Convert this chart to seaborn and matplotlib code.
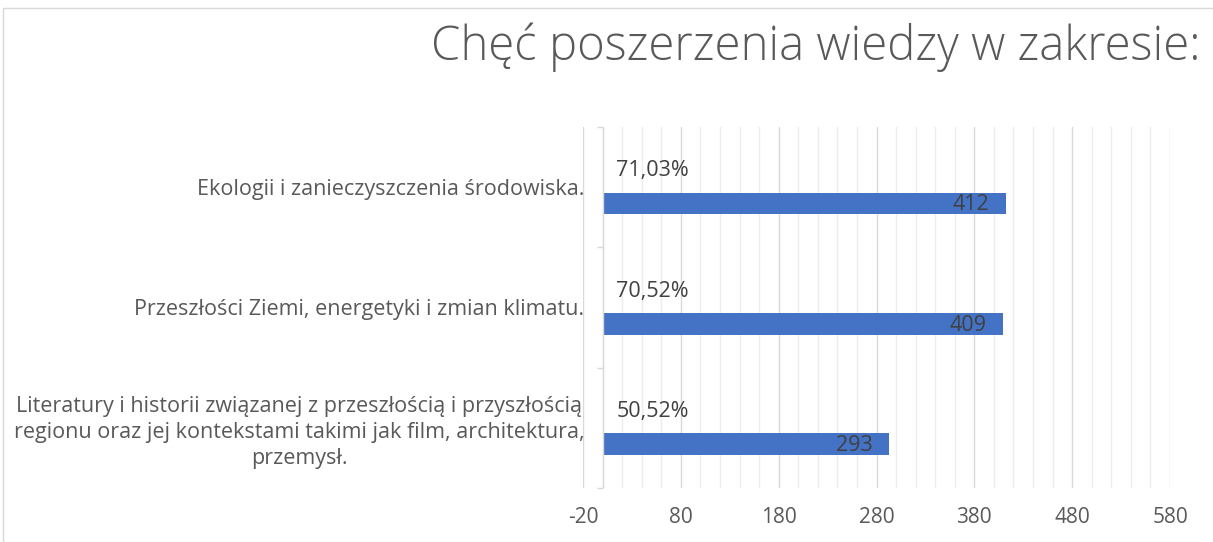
import matplotlib
matplotlib.use("Agg")
import matplotlib.pyplot as plt
import seaborn as sns
import pandas as pd
from matplotlib.patches import Rectangle

categories = [
    "Ekologii i zanieczyszczenia środowiska.",
    "Przeszłości Ziemi, energetyki i zmian klimatu.",
    "Literatury i historii związanej z przeszłością i przyszłością\nregionu oraz jej kontekstami takimi jak film, architektura,\nprzemysł.",
]
counts = [412, 409, 293]
percents = [0.7103, 0.7052, 0.5052]
percent_labels = ["71,03%", "70,52%", "50,52%"]
title = "Chęć poszerzenia wiedzy w zakresie:"
x_ticks = [-20, 80, 180, 280, 380, 480, 580]

df = pd.DataFrame({
    "cat": categories * 2,
    "series": ["pct"] * 3 + ["count"] * 3,
    "value": percents + counts,
})

sns.set_theme(style="white")
FONT = ["Open Sans", "DejaVu Sans"]
plt.rcParams["font.family"] = FONT

fig = plt.figure(figsize=(12.13, 5.42), dpi=100)
ax = fig.add_axes([583 / 1213, 1 - 488 / 542, (1170 - 583) / 1213, (488 - 127) / 542])

sns.barplot(data=df, y="cat", x="value", hue="series", order=categories,
            hue_order=["pct", "count"],
            palette={"pct": "#ED7D31", "count": "#4472C4"},
            orient="h", width=0.54, gap=0.33, dodge=True, ax=ax,
            legend=False, linewidth=0, saturation=1)

ax.set_xlim(-20, 580)
ax.set_ylim(2.5, -0.5)
ax.set_xticks(x_ticks)
ax.set_xticklabels([str(t) for t in x_ticks])
ax.set_xticks(range(-20, 581, 20), minor=True)
ax.grid(axis="x", which="major", color="#d9d9d9", linewidth=1.0)
ax.grid(axis="x", which="minor", color="#ececec", linewidth=1.0)
ax.set_axisbelow(True)
for s in ax.spines.values():
    s.set_visible(False)
ax.tick_params(axis="x", which="both", length=0, pad=14, labelsize=15, labelcolor="#595959")
ax.tick_params(axis="y", length=0, pad=-1, labelsize=15.5, labelcolor="#595959")
for lab in ax.get_yticklabels():
    lab.set_multialignment("center")
    lab.set_linespacing(1.3)
ax.set_xlabel("")
ax.set_ylabel("")

# category axis line at 0 with tick marks at category boundaries
ax.axvline(0, color="#d9d9d9", linewidth=1.0, zorder=1)
ax.hlines([-0.5, 0.5, 1.5, 2.5], -6, 0, color="#d9d9d9", linewidth=1.0, clip_on=False)

# labels
conts = ax.containers
pct_bars = conts[0]
cnt_bars = conts[1]
for bar, lab in zip(pct_bars, percent_labels):
    y = bar.get_y() + bar.get_height() / 2
    ax.annotate(lab, (bar.get_width(), y), xytext=(9.5, 0), textcoords="offset points",
                ha="left", va="center", fontsize=15.5, color="#404040")
for bar, v in zip(cnt_bars, counts):
    y = bar.get_y() + bar.get_height() / 2
    ax.annotate(str(v), (bar.get_width(), y), xytext=(-12, -1), textcoords="offset points",
                ha="right", va="center", fontsize=15.5, color="#404040")

fig.text(816 / 1213, 1 - 47 / 542, title, ha="center", va="center", fontsize=34,
         color="#595959", fontweight="light")

fig.patches.append(Rectangle((3 / 1213, -0.05), 1.1, 1 - 8 / 542 + 0.05,
                             transform=fig.transFigure, fill=False,
                             edgecolor="#d9d9d9", linewidth=1.0))

fig.savefig("out.png", dpi=100)
